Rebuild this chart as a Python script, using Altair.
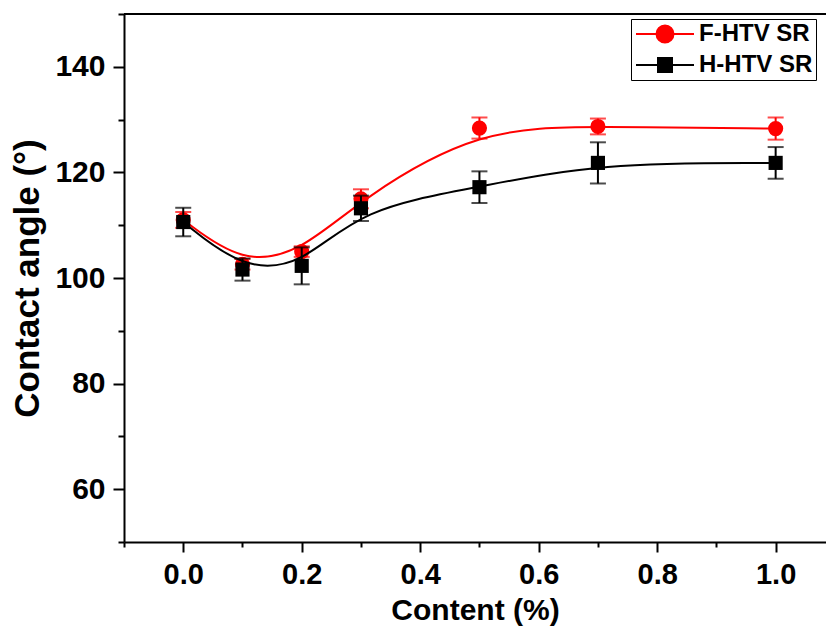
import altair as alt
import pandas as pd

# ---- data ----
content = [0.0, 0.1, 0.2, 0.3, 0.5, 0.7, 1.0]
f_mean = [111.0, 102.6, 105.0, 115.0, 128.4, 128.7, 128.3]
f_err = [1.5, 1.0, 1.0, 1.8, 2.0, 1.5, 2.1]
h_mean = [110.6, 101.6, 102.3, 113.2, 117.2, 121.8, 121.8]
h_err = [2.7, 2.1, 3.5, 2.4, 3.0, 3.9, 3.0]
series = ["F-HTV SR", "H-HTV SR"]
colors = ["#ff0000", "#000000"]
shapes = ["circle", "square"]
point_sizes = [230, 200]

x_ticks = [-0.1, 0.0, 0.1, 0.2, 0.3, 0.4, 0.5, 0.6, 0.7, 0.8, 0.9, 1.0]
y_ticks = [50, 60, 70, 80, 90, 100, 110, 120, 130, 140, 150]
x_domain = [-0.1, 1.085]
y_domain = [50, 150]
frame_top = [150]

FONT = "Liberation Sans"

rows = []
for name, means, errs in zip(series, [f_mean, h_mean], [f_err, h_err]):
    for c, m, e in zip(content, means, errs):
        rows.append({"content": c, "angle": m, "err": e, "series": name})
df = pd.DataFrame(rows)

x_axis = alt.Axis(
    title="Content (%)", values=x_ticks,
    labelExpr="abs(round(datum.value*10)) % 2 == 0 ? format(datum.value, '.1f') : ''",
    tickSize={"condition": {"test": "abs(round(datum.value*10)) % 2 == 0", "value": 10}, "value": 5},
    labelOverlap=False, labelFlush=False, grid=False,
    domainColor="black", domainWidth=2, tickColor="black", tickWidth=2,
    labelFont=FONT, labelFontSize=29, labelFontWeight="bold", labelColor="black", labelPadding=8,
    titleFont=FONT, titleFontSize=30, titleFontWeight="bold", titleColor="black", titlePadding=6,
)
y_axis = alt.Axis(
    title="Contact angle (°)", values=y_ticks,
    labelExpr="datum.value % 20 == 0 ? format(datum.value, 'd') : ''",
    tickSize={"condition": {"test": "datum.value % 20 == 0", "value": 11}, "value": 6},
    labelOverlap=False, labelFlush=False, grid=False,
    domainColor="black", domainWidth=2, tickColor="black", tickWidth=2,
    labelFont=FONT, labelFontSize=30, labelFontWeight="bold", labelColor="black", labelPadding=8,
    titleFont=FONT, titleFontSize=35, titleFontWeight="bold", titleColor="black", titlePadding=9,
)

x_scale = alt.Scale(domain=x_domain, nice=False, zero=False)
y_scale = alt.Scale(domain=y_domain, nice=False, zero=False)

circle_path = "M-1,0L4.8,0M1.05,0A0.85,0.85,0,1,1,2.75,0A0.85,0.85,0,1,1,1.05,0Z"
square_path = "M-1,0L4.8,0M1.2,-0.7L2.6,-0.7L2.6,0.7L1.2,0.7Z"

legend = alt.Legend(
    title=None, orient="none", legendX=507, legendY=5,
    labelFont=FONT, labelFontSize=24, labelFontWeight="bold", labelColor="black",
    strokeColor="black", fillColor="white", padding=3, rowPadding=6,
    symbolSize=400, symbolStrokeWidth=2, symbolOpacity=1, labelOffset=41,
)


def X(field):
    return alt.X(field, type="quantitative", scale=x_scale, axis=x_axis)


def Y(field):
    return alt.Y(field, type="quantitative", scale=y_scale, axis=y_axis)


color_plain = alt.Color("series:N", scale=alt.Scale(domain=series, range=colors), legend=None)

layers = []
# legend source (marks pushed outside the clipped plot area, only the legend shows)
layers.append(
    alt.Chart(df).transform_calculate(ghost="datum.angle + 1000")
    .mark_point(filled=True, clip=True, size=400, strokeWidth=2)
    .encode(
        x=X("content"), y=Y("ghost"),
        color=alt.Color("series:N", scale=alt.Scale(domain=series, range=colors), legend=legend),
        stroke=alt.Stroke("series:N", scale=alt.Scale(domain=series, range=colors), legend=legend),
        shape=alt.Shape("series:N", scale=alt.Scale(domain=series, range=[circle_path, square_path]), legend=legend),
    )
)
# top frame line
layers.append(
    alt.Chart(pd.DataFrame({"edge": frame_top})).mark_rule(color="black", strokeWidth=2)
    .encode(y=Y("edge"), x=alt.value(0), x2=alt.value(702))
)
for name, shp, ps in zip(series, shapes, point_sizes):
    base = alt.Chart(df).transform_filter(alt.datum.series == name).transform_calculate(
        lo="datum.angle - datum.err", hi="datum.angle + datum.err")
    layers.append(base.mark_line(interpolate="basis", strokeWidth=2).encode(
        x=X("content"), y=Y("angle"), color=color_plain))
    layers.append(base.mark_rule(strokeWidth=2).encode(
        x=X("content"), y=Y("lo"), y2="hi:Q", color=color_plain))
    layers.append(base.mark_tick(orient="horizontal", size=16, thickness=2).encode(
        x=X("content"), y=Y("lo"), color=color_plain))
    layers.append(base.mark_tick(orient="horizontal", size=16, thickness=2).encode(
        x=X("content"), y=Y("hi"), color=color_plain))
    layers.append(base.mark_point(shape=shp, filled=True, size=ps, opacity=1).encode(
        x=X("content"), y=Y("angle"), color=color_plain))

chart = alt.layer(*layers).properties(
    width=702, height=528,
    autosize=alt.AutoSizeParams(type="none"),
    padding={"left": 124, "top": 14, "right": 0, "bottom": 84},
    background="white",
).configure_view(stroke=None)

chart.save("out.html", embed_options={"renderer": "svg", "actions": False})
